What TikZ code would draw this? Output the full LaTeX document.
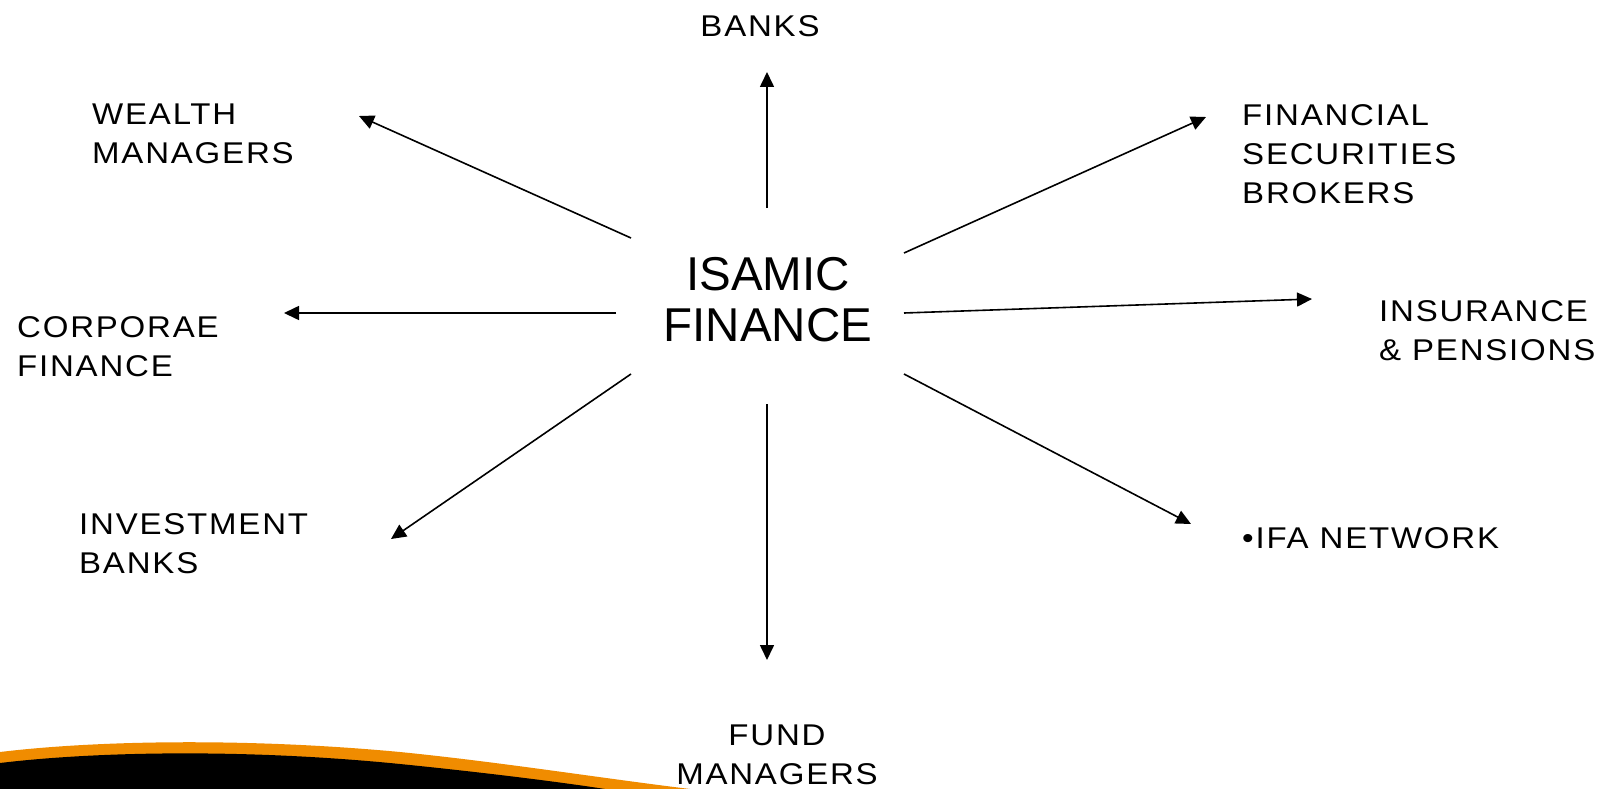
\documentclass[tikz,border=0pt]{standalone}
\usepackage{fontspec}
\setmainfont{Liberation Sans}
\newfontfamily\labelfont[LetterSpace=6,FakeStretch=1.1]{Liberation Sans}
\usetikzlibrary{arrows.meta}
\definecolor{swooshorange}{RGB}{240,140,0}
\tikzset{
  lbl/.style={font=\fontsize{30}{39}\labelfont, inner sep=0pt, align=left, anchor=north west},
  hub/.style={font=\fontsize{47.5}{51}\selectfont, inner sep=0pt, align=center, anchor=north},
  link/.style={line width=1.6pt, -{Triangle[length=15pt,width=14pt]}},
}
\begin{document}
\begin{tikzpicture}[x=1pt,y=-1pt]
  \useasboundingbox[fill=white] (0,0) rectangle (1610,789);

  % decorative swoosh in the lower left corner
  \fill[swooshorange] (0,752) .. controls (100,740) and (250,738) .. (400,752)
    .. controls (500,762) and (600,778) .. (690,789) -- (0,789) -- cycle;
  \fill[black] (0,763) .. controls (100,751) and (250,749) .. (400,764)
    .. controls (480,772) and (560,782) .. (605,789) -- (0,789) -- cycle;

  % central topic
  \node[hub] (hub) at (768,257) {ISAMIC\\FINANCE};

  % surrounding sectors
  \node[lbl, anchor=north] (banks) at (760,15.5) {BANKS};
  \node[lbl] (wealth) at (92,104) {WEALTH\\MANAGERS};
  \node[lbl] (brokers) at (1242,104) {FINANCIAL\\SECURITIES\\BROKERS};
  \node[lbl] (corp) at (17,316) {CORPORAE\\FINANCE};
  \node[lbl] (insur) at (1379,300) {INSURANCE\\\& PENSIONS};
  \node[lbl] (invest) at (79,513) {INVESTMENT\\BANKS};
  \node[lbl] (ifa) at (1242,527) {\textbullet IFA NETWORK};
  \node[lbl, anchor=north, align=center] (fund) at (777,725) {FUND\\MANAGERS};

  % arrow end points
  \coordinate (sN)  at (767,208);  \coordinate (tN)  at (767,72);
  \coordinate (sNW) at (631,238);  \coordinate (tNW) at (359,116);
  \coordinate (sNE) at (904,253);  \coordinate (tNE) at (1206,117);
  \coordinate (sW)  at (616,313);  \coordinate (tW)  at (284,313);
  \coordinate (sE)  at (904,313);  \coordinate (tE)  at (1312,299);
  \coordinate (sSW) at (631,374);  \coordinate (tSW) at (391,539);
  \coordinate (sSE) at (904,374);  \coordinate (tSE) at (1191,524);
  \coordinate (sS)  at (767,404);  \coordinate (tS)  at (767,660);

  \draw[link] (sN) -- (tN);
  \draw[link] (sNW) -- (tNW);
  \draw[link] (sNE) -- (tNE);
  \draw[link] (sW) -- (tW);
  \draw[link] (sE) -- (tE);
  \draw[link] (sSW) -- (tSW);
  \draw[link] (sSE) -- (tSE);
  \draw[link] (sS) -- (tS);
\end{tikzpicture}
\end{document}
